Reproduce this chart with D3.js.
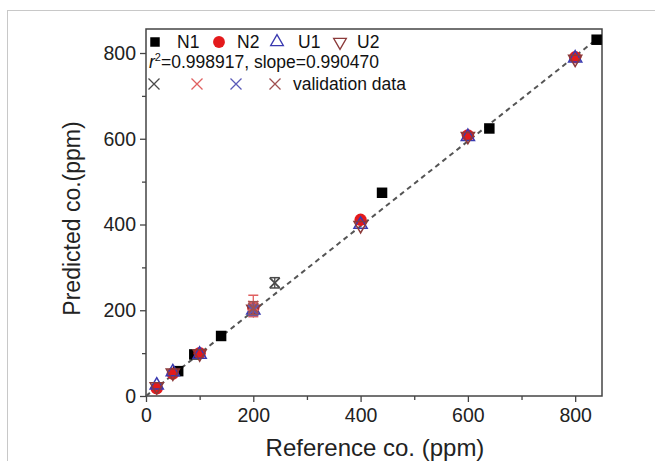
<!DOCTYPE html>
<html>
<head>
<meta charset="utf-8">
<script src="https://cdn.jsdelivr.net/npm/d3@7"></script>
<style>
  html, body { margin: 0; padding: 0; background: #fff; }
  svg { display: block; font-family: "Liberation Sans", Arial, Helvetica, sans-serif; }
</style>
</head>
<body>
<svg id="chart" width="655" height="461"></svg>
<script>
// Calibration data: reference vs predicted CO concentration (ppm)
const n1Ref  = [60, 90, 140, 440, 640, 840];
const n1Pred = [58, 97, 140, 474, 624, 831];

const uRef   = [20, 50, 100, 200, 400, 600, 800];
const n2Pred = [18, 52, 100, 205, 411, 608, 790];
const u1Pred = [25, 56, 97, 200, 400, 605, 788];
const u2Pred = [22, 54, 99, 203, 398, 606, 786];

// Validation points with error bars
const valRef   = [240, 200, 200, 200];
const valPred  = [264, 210, 200, 205];
const valErr   = [12, 25, 12, 15];
const valColor = ["#4a4a4a", "#e06060", "#5a5ab8", "#a05050"];

const fitSlope = 0.990470;
const fitR2 = "0.998917";
const xTicks = [0, 200, 400, 600, 800];
const yTicks = [0, 200, 400, 600, 800];

const svg = d3.select("#chart");

// outer panel frame
svg.append("rect").attr("x", 7.5).attr("y", 10.5).attr("width", 700).attr("height", 500)
  .attr("fill", "none").attr("stroke", "#c8c8c8").attr("stroke-width", 1);

const L = 146, R = 602, T = 29, B = 396;
const x = d3.scaleLinear().domain([0, 850]).range([L, R]);
const y = d3.scaleLinear().domain([0, 856]).range([B, T]);

const axisColor = "#444";

// minor ticks
const xMinor = [100, 300, 500, 700];
const yMinor = [100, 300, 500, 700];

const gx = svg.append("g").attr("transform", `translate(0,${B})`);
gx.call(d3.axisBottom(x).tickValues(xTicks).tickSize(6).tickPadding(6).tickFormat(d3.format("d")));
gx.append("g").call(d3.axisBottom(x).tickValues(xMinor).tickSize(4).tickFormat(""));
gx.selectAll(".domain").remove();
gx.selectAll("line").attr("stroke", axisColor).attr("stroke-width", 1.3);
gx.selectAll("text").attr("font-size", 19.5).attr("fill", "#222")
  .attr("font-family", "'Liberation Sans', Arial, sans-serif");

const gy = svg.append("g").attr("transform", `translate(${L},0)`);
gy.call(d3.axisLeft(y).tickValues(yTicks).tickSize(6).tickPadding(4).tickFormat(d3.format("d")));
gy.append("g").call(d3.axisLeft(y).tickValues(yMinor).tickSize(4).tickFormat(""));
gy.selectAll(".domain").remove();
gy.selectAll("line").attr("stroke", axisColor).attr("stroke-width", 1.3);
gy.selectAll("text").attr("font-size", 19.5).attr("fill", "#222")
  .attr("font-family", "'Liberation Sans', Arial, sans-serif");

// plot frame
svg.append("rect").attr("x", L).attr("y", T).attr("width", R - L).attr("height", B - T)
  .attr("fill", "none").attr("stroke", axisColor).attr("stroke-width", 1.5);

// axis titles
svg.append("text").attr("x", (L + R) / 2 + 1).attr("y", 456)
  .attr("text-anchor", "middle").attr("font-size", 24).attr("fill", "#222")
  .text("Reference co. (ppm)");
svg.append("text").attr("transform", `translate(80,${(T + B) / 2 + 6}) rotate(-90)`)
  .attr("text-anchor", "middle").attr("font-size", 23).attr("fill", "#222")
  .text("Predicted co.(ppm)");

const plot = svg.append("g");

// linear fit line
plot.append("line")
  .attr("x1", x(0)).attr("y1", y(0))
  .attr("x2", x(850)).attr("y2", y(850 * fitSlope))
  .attr("stroke", "#555").attr("stroke-width", 2).attr("stroke-dasharray", "5,4");

const sym = (type, size) => d3.symbol().type(type).size(size)();
const xMark = r => `M${-r},${-r}L${r},${r}M${-r},${r}L${r},${-r}`;

// N1 squares
plot.selectAll(".n1").data(n1Ref).join("path")
  .attr("transform", (d, i) => `translate(${x(d)},${y(n1Pred[i])})`)
  .attr("d", sym(d3.symbolSquare, 110)).attr("fill", "#000");

// N2 circles
plot.selectAll(".n2").data(uRef).join("path")
  .attr("transform", (d, i) => `translate(${x(d)},${y(n2Pred[i])})`)
  .attr("d", sym(d3.symbolCircle, 120)).attr("fill", "#e41a1c");

// U1 up triangles
plot.selectAll(".u1").data(uRef).join("path")
  .attr("transform", (d, i) => `translate(${x(d)},${y(u1Pred[i])})`)
  .attr("d", sym(d3.symbolTriangle, 75)).attr("fill", "none")
  .attr("stroke", "#3a3ab0").attr("stroke-width", 1.5);

// U2 down triangles
plot.selectAll(".u2").data(uRef).join("path")
  .attr("transform", (d, i) => `translate(${x(d)},${y(u2Pred[i])}) rotate(180)`)
  .attr("d", sym(d3.symbolTriangle, 75)).attr("fill", "none")
  .attr("stroke", "#8b3a3a").attr("stroke-width", 1.5);

// validation points with error bars
valRef.forEach((d, i) => {
  const g = plot.append("g");
  const cx = x(d);
  const y0 = y(valPred[i] - valErr[i]), y1 = y(valPred[i] + valErr[i]);
  g.append("line").attr("x1", cx).attr("x2", cx).attr("y1", y0).attr("y2", y1)
    .attr("stroke", valColor[i]).attr("stroke-width", 1.3);
  [y0, y1].forEach(yy => g.append("line").attr("x1", cx - 5).attr("x2", cx + 5)
    .attr("y1", yy).attr("y2", yy).attr("stroke", valColor[i]).attr("stroke-width", 1.5));
  g.append("path").attr("transform", `translate(${cx},${y(valPred[i])})`)
    .attr("d", xMark(5)).attr("stroke", valColor[i]).attr("stroke-width", 1.8).attr("fill", "none");
});

// legend
const lg = svg.append("g").attr("font-size", 17.5).attr("fill", "#111");
const legendRow = [
  { label: "N1", mx: 155, tx: 177, draw: g => g.append("path").attr("d", sym(d3.symbolSquare, 90)).attr("fill", "#000") },
  { label: "N2", mx: 219, tx: 237, draw: g => g.append("path").attr("d", sym(d3.symbolCircle, 110)).attr("fill", "#e41a1c") },
  { label: "U1", mx: 277, tx: 298, draw: g => g.append("path").attr("d", sym(d3.symbolTriangle, 70)).attr("fill", "none").attr("stroke", "#3a3ab0").attr("stroke-width", 1.3) },
  { label: "U2", mx: 340, tx: 357, draw: g => g.append("path").attr("d", sym(d3.symbolTriangle, 70)).attr("transform", "rotate(180)").attr("fill", "none").attr("stroke", "#8b3a3a").attr("stroke-width", 1.3) }
];
legendRow.forEach(it => {
  it.draw(lg.append("g").attr("transform", `translate(${it.mx},42)`));
  lg.append("text").attr("x", it.tx).attr("y", 48).text(it.label);
});

const r2 = lg.append("text").attr("x", 149).attr("y", 68);
r2.append("tspan").attr("font-style", "italic").text("r");
r2.append("tspan").attr("font-size", 11).attr("dy", -7).text("2");
r2.append("tspan").attr("dy", 7).text(`=${fitR2}, slope=${fitSlope.toFixed(6)}`);

[154, 197, 236, 275].forEach((mx, i) => {
  lg.append("path").attr("transform", `translate(${mx},84)`).attr("d", xMark(5.5))
    .attr("stroke", valColor[i]).attr("stroke-width", 1.3).attr("fill", "none");
});
lg.append("text").attr("x", 293).attr("y", 90).text("validation data");
</script>
</body>
</html>
